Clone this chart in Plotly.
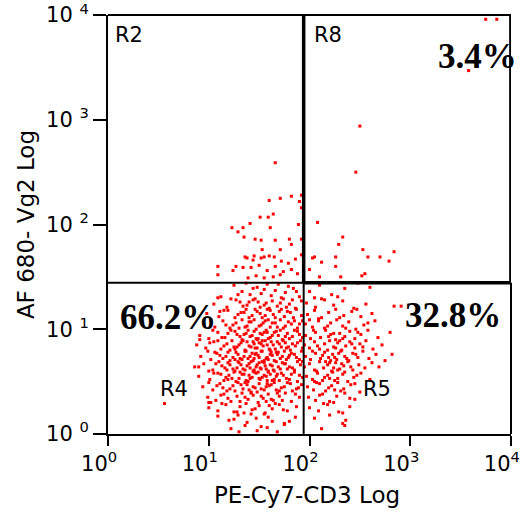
import plotly.graph_objects as go

# ---------------- data (log10 of fluorescence intensity) ----------------
# R4: lower-left population (CD3 low, Vg2 low)
r4_cd3_log10 = [
    1.12,1.25,1.33,1.41,1.48,1.55,1.62,1.69,1.76,1.84,1.90,1.37,1.52,1.66,1.79,1.29,1.58,1.72,1.87,1.44,
    1.05,1.18,1.27,1.34,1.40,1.46,1.51,1.57,1.63,1.68,1.74,1.80,1.86,1.92,1.22,1.38,1.49,1.60,1.71,1.83,1.31,1.55,1.77,1.44,
    0.98,1.10,1.19,1.26,1.32,1.37,1.43,1.48,1.53,1.58,1.64,1.70,1.75,1.81,1.87,1.92,1.15,1.29,1.40,1.51,1.61,1.72,1.84,1.35,1.56,1.66,1.78,1.46,
    0.95,1.06,1.14,1.21,1.27,1.33,1.38,1.42,1.47,1.52,1.56,1.61,1.66,1.71,1.76,1.82,1.88,1.93,1.02,1.17,1.30,1.40,1.50,1.59,1.68,1.79,1.90,1.24,1.45,1.63,1.74,1.36,1.54,1.85,
    0.91,1.00,1.09,1.16,1.22,1.28,1.33,1.37,1.41,1.45,1.49,1.53,1.57,1.61,1.65,1.69,1.73,1.78,1.83,1.88,1.93,1.04,1.19,1.31,1.39,1.47,1.55,1.63,1.71,1.80,1.90,1.13,1.26,1.43,1.51,1.59,1.67,1.76,1.35,1.58,1.85,1.48,
    0.88,0.97,1.05,1.12,1.18,1.23,1.28,1.32,1.36,1.40,1.44,1.48,1.52,1.56,1.60,1.64,1.68,1.72,1.76,1.81,1.86,1.91,1.01,1.15,1.26,1.34,1.42,1.50,1.58,1.66,1.74,1.83,1.93,1.09,1.21,1.30,1.38,1.46,1.54,1.62,1.70,1.79,1.88,1.25,1.45,1.61,1.77,1.53,
    0.92,1.02,1.08,1.14,1.19,1.24,1.29,1.33,1.37,1.41,1.44,1.47,1.50,1.53,1.57,1.61,1.65,1.69,1.73,1.77,1.82,1.87,1.92,0.99,1.11,1.21,1.27,1.35,1.39,1.46,1.52,1.59,1.63,1.67,1.71,1.80,1.90,1.06,1.17,1.31,1.43,1.55,1.75,1.85,1.26,1.49,1.58,1.68,1.36,1.62,1.79,1.45,
    0.86,0.95,1.04,1.10,1.16,1.21,1.26,1.30,1.34,1.38,1.42,1.45,1.48,1.51,1.55,1.59,1.63,1.67,1.71,1.75,1.80,1.85,1.91,1.00,1.13,1.19,1.28,1.36,1.40,1.47,1.53,1.57,1.61,1.65,1.73,1.83,1.93,1.07,1.24,1.32,1.44,1.50,1.69,1.78,1.88,1.18,1.41,1.56,1.64,1.29,1.52,1.76,
    0.90,1.01,1.09,1.15,1.20,1.25,1.30,1.35,1.39,1.43,1.47,1.51,1.55,1.59,1.63,1.67,1.72,1.77,1.82,1.88,1.93,1.05,1.17,1.27,1.33,1.41,1.49,1.57,1.65,1.74,1.85,1.12,1.23,1.37,1.45,1.53,1.61,1.70,1.80,1.19,1.40,1.58,1.31,1.50,1.68,1.90,
    0.94,1.04,1.11,1.18,1.24,1.29,1.34,1.38,1.42,1.46,1.50,1.55,1.60,1.65,1.70,1.75,1.81,1.87,1.92,1.00,1.14,1.26,1.36,1.44,1.52,1.62,1.72,1.83,1.08,1.21,1.32,1.48,1.57,1.67,1.78,1.40,1.58,1.89,
    0.99,1.07,1.15,1.22,1.28,1.33,1.39,1.44,1.49,1.54,1.59,1.64,1.70,1.76,1.82,1.90,1.02,1.19,1.31,1.42,1.52,1.62,1.73,1.86,1.12,1.36,1.57,1.68,
    1.00,1.09,1.17,1.25,1.31,1.37,1.43,1.50,1.56,1.63,1.70,1.78,1.87,1.13,1.28,1.46,1.60,1.74,1.35,1.66,
    1.09,1.20,1.29,1.38,1.47,1.55,1.63,1.75,1.86,1.25,1.42,1.59,1.80,
    1.22,1.36,1.48,1.58,1.68,1.75,1.30,1.52,
    0.56,0.90,0.91,1.09,1.11,1.00,
]
r4_vg2_log10 = [
    1.31,1.42,1.36,1.33,1.40,1.38,1.32,1.43,1.35,1.39,1.31,1.44,1.34,1.37,1.41,1.33,1.43,1.30,1.36,1.39,
    1.24,1.21,1.28,1.22,1.26,1.29,1.21,1.25,1.27,1.22,1.29,1.24,1.20,1.27,1.29,1.23,1.26,1.20,1.25,1.28,1.26,1.23,1.21,1.28,
    1.15,1.12,1.18,1.11,1.16,1.19,1.13,1.17,1.11,1.19,1.14,1.17,1.12,1.16,1.19,1.13,1.18,1.14,1.11,1.15,1.18,1.19,1.11,1.16,1.13,1.11,1.17,1.19,
    1.05,1.02,1.08,1.01,1.06,1.09,1.03,1.07,1.00,1.04,1.08,1.02,1.06,1.09,1.03,1.05,1.01,1.08,1.09,1.04,1.01,1.07,1.03,1.09,1.02,1.07,1.05,1.04,1.09,1.06,1.01,1.02,1.06,1.08,
    0.94,0.91,0.97,0.92,0.99,0.95,0.90,0.96,0.93,0.98,0.91,0.95,0.99,0.92,0.97,0.94,0.90,0.96,0.93,0.98,0.92,0.99,0.96,0.93,0.99,0.91,0.97,0.94,0.99,0.91,0.95,0.92,0.98,0.94,0.96,0.91,0.98,0.93,0.95,0.97,0.99,0.90,
    0.85,0.82,0.88,0.81,0.86,0.89,0.83,0.87,0.80,0.84,0.88,0.82,0.86,0.89,0.81,0.85,0.88,0.83,0.87,0.80,0.84,0.89,0.87,0.84,0.81,0.89,0.83,0.87,0.85,0.81,0.89,0.86,0.82,0.89,0.80,0.85,0.88,0.82,0.84,0.88,0.86,0.83,0.87,0.83,0.86,0.80,0.82,0.89,
    0.74,0.71,0.77,0.72,0.78,0.73,0.76,0.71,0.79,0.74,0.70,0.77,0.73,0.79,0.72,0.76,0.70,0.78,0.74,0.71,0.77,0.73,0.79,0.79,0.75,0.70,0.78,0.74,0.72,0.76,0.79,0.71,0.75,0.78,0.72,0.75,0.71,0.78,0.74,0.72,0.77,0.70,0.79,0.76,0.71,0.75,0.73,0.76,0.79,0.78,0.73,0.72,
    0.64,0.67,0.61,0.69,0.63,0.66,0.60,0.68,0.62,0.65,0.69,0.61,0.66,0.63,0.68,0.60,0.65,0.69,0.62,0.67,0.64,0.61,0.66,0.60,0.65,0.68,0.63,0.61,0.67,0.64,0.69,0.62,0.66,0.60,0.68,0.63,0.69,0.67,0.62,0.66,0.60,0.68,0.64,0.62,0.69,0.61,0.63,0.65,0.61,0.69,0.62,0.67,
    0.55,0.52,0.58,0.51,0.56,0.59,0.53,0.57,0.50,0.54,0.58,0.52,0.56,0.59,0.51,0.55,0.58,0.53,0.57,0.50,0.54,0.58,0.54,0.50,0.57,0.53,0.59,0.55,0.52,0.56,0.59,0.57,0.53,0.51,0.59,0.54,0.57,0.51,0.52,0.52,0.56,0.51,0.59,0.53,0.57,0.56,
    0.45,0.42,0.48,0.41,0.46,0.49,0.43,0.47,0.40,0.44,0.48,0.42,0.46,0.49,0.41,0.45,0.48,0.43,0.47,0.49,0.44,0.41,0.49,0.45,0.43,0.47,0.44,0.41,0.46,0.43,0.47,0.40,0.45,0.42,0.49,0.42,0.48,0.44,
    0.35,0.32,0.38,0.31,0.36,0.39,0.33,0.37,0.30,0.34,0.38,0.32,0.36,0.39,0.31,0.35,0.30,0.34,0.31,0.39,0.36,0.33,0.32,0.38,0.37,0.35,0.31,0.39,
    0.25,0.22,0.28,0.21,0.26,0.29,0.23,0.27,0.20,0.24,0.28,0.22,0.26,0.29,0.21,0.24,0.27,0.23,0.20,0.29,
    0.17,0.13,0.18,0.11,0.15,0.19,0.12,0.10,0.16,0.14,0.19,0.16,0.12,
    0.05,0.08,0.03,0.06,0.02,0.09,0.02,0.07,
    0.29,0.64,0.90,1.30,1.17,0.30,
]

# R5: lower-right population (CD3 high, Vg2 low)
r5_cd3_log10 = [
    2.00,2.10,2.22,2.35,2.48,2.60,2.28,2.05,
    1.97,2.06,2.15,2.24,2.33,2.44,2.56,2.84,2.91,2.12,
    1.98,2.05,2.12,2.19,2.26,2.34,2.42,2.51,2.62,2.09,2.30,2.47,
    1.96,2.03,2.09,2.15,2.21,2.27,2.33,2.39,2.46,2.54,2.65,2.00,2.18,2.36,2.58,
    1.96,2.01,2.06,2.11,2.16,2.21,2.26,2.30,2.35,2.40,2.45,2.51,2.58,2.68,2.80,2.04,2.19,2.33,2.48,2.24,
    1.95,2.00,2.05,2.10,2.15,2.20,2.24,2.28,2.32,2.36,2.40,2.45,2.50,2.56,2.63,2.72,2.08,2.18,2.30,2.42,2.26,2.53,
    1.96,2.01,2.06,2.11,2.15,2.19,2.23,2.27,2.31,2.35,2.39,2.43,2.48,2.53,2.59,2.66,2.75,2.03,2.13,2.21,2.29,2.37,2.46,2.25,
    1.95,2.00,2.05,2.10,2.14,2.18,2.22,2.26,2.30,2.34,2.38,2.43,2.49,2.55,2.62,2.07,2.16,2.24,2.32,2.41,2.20,2.28,
    1.97,2.03,2.08,2.13,2.18,2.23,2.28,2.33,2.38,2.44,2.51,2.60,2.05,2.15,2.25,2.35,2.47,2.20,
    1.98,2.04,2.10,2.16,2.22,2.28,2.34,2.41,2.50,2.07,2.19,2.31,2.45,2.25,
    1.99,2.06,2.13,2.20,2.27,2.35,2.45,2.10,2.24,2.40,
    2.00,2.09,2.18,2.29,2.40,2.14,2.33,
    2.05,2.20,2.33,2.36,
    2.12,2.35,
    2.82,2.69,
]
r5_vg2_log10 = [
    1.36,1.42,1.33,1.39,1.44,1.40,1.31,1.30,
    1.25,1.21,1.28,1.23,1.27,1.20,1.24,1.22,1.22,1.29,
    1.14,1.18,1.11,1.16,1.19,1.13,1.17,1.12,1.15,1.10,1.11,1.19,
    1.05,1.02,1.08,1.01,1.06,1.09,1.03,1.07,1.00,1.04,1.08,1.09,1.03,1.01,1.06,
    0.94,0.91,0.97,0.92,0.99,0.95,0.90,0.96,0.93,0.98,0.91,0.95,0.99,0.92,0.97,0.99,0.93,0.91,0.97,0.96,
    0.85,0.82,0.88,0.81,0.86,0.89,0.83,0.87,0.80,0.84,0.88,0.82,0.86,0.89,0.81,0.85,0.84,0.80,0.89,0.86,0.82,0.83,
    0.74,0.71,0.77,0.72,0.78,0.73,0.76,0.71,0.79,0.74,0.70,0.77,0.73,0.79,0.72,0.76,0.70,0.79,0.75,0.70,0.77,0.72,0.76,0.73,
    0.64,0.67,0.61,0.69,0.63,0.66,0.60,0.68,0.62,0.65,0.69,0.61,0.66,0.63,0.68,0.60,0.69,0.63,0.67,0.64,0.68,0.61,
    0.55,0.52,0.58,0.51,0.56,0.59,0.53,0.57,0.50,0.54,0.58,0.52,0.50,0.54,0.51,0.59,0.56,0.53,
    0.45,0.42,0.48,0.41,0.46,0.49,0.43,0.47,0.40,0.49,0.44,0.41,0.48,0.42,
    0.35,0.32,0.38,0.31,0.36,0.39,0.33,0.37,0.30,0.34,
    0.25,0.22,0.28,0.21,0.26,0.29,0.20,
    0.15,0.18,0.10,0.13,
    0.05,0.08,
    0.76,0.64,
]

# R2: upper-left population (CD3 low, Vg2 high)
r2_cd3_log10 = [
    1.60,1.71,1.82,1.90,1.92,1.59,1.64,1.51,1.34,1.41,1.35,1.23,1.29,1.61,1.89,1.46,1.52,1.66,1.80,1.82,
    1.71,1.53,1.55,1.45,1.38,1.92,1.92,1.92,1.66,
    1.09,1.09,1.24,1.27,
    1.36,1.44,1.52,1.60,1.65,1.72,1.79,1.86,1.34,1.42,1.50,1.58,1.66,1.74,1.82,1.47,1.55,1.64,1.88,1.39,1.71,
]
r2_vg2_log10 = [
    2.23,2.25,2.27,2.22,2.28,2.07,2.10,2.07,1.97,2.01,1.88,1.97,1.93,1.97,2.00,1.86,1.85,1.85,1.86,1.81,
    1.76,1.76,1.69,1.70,1.68,1.86,1.71,2.16,2.59,
    1.60,1.52,1.56,1.60,
    1.69,1.66,1.68,1.70,1.69,1.65,1.63,1.67,1.59,1.59,1.61,1.56,1.60,1.55,1.57,1.51,1.49,1.50,1.53,1.49,1.52,
]

# R8: upper-right population (CD3 high, Vg2 high)
r8_cd3_log10 = [2.46,2.50,3.75,3.86,3.58,2.08,2.33,2.29,2.53,2.84,2.58,2.26,2.05,2.70,
                2.26,2.31,2.52,2.55,2.79,2.03,2.12,2.10,2.00]
r8_vg2_log10 = [2.50,2.94,3.96,3.96,3.47,2.02,1.88,1.81,1.76,1.74,1.69,1.69,1.69,1.69,
                1.60,1.50,1.51,1.53,1.65,1.68,1.64,1.50,1.57]

# gate thresholds (fluorescence units)
gate_cd3 = 87.5
gate_vg2 = 27.7

# region labels and percentages
region_names = ["R2", "R8", "R4", "R5"]
region_pcts = ["66.2%", "32.8%", "3.4%"]

tick_vals = [1, 10, 100, 1000, 10000]
tick_exps = ["0", "1", "2", "3", "4"]

# ---------------- figure ----------------
all_x = [10 ** v for v in (r4_cd3_log10 + r5_cd3_log10 + r2_cd3_log10 + r8_cd3_log10)]
all_y = [10 ** v for v in (r4_vg2_log10 + r5_vg2_log10 + r2_vg2_log10 + r8_vg2_log10)]

fig = go.Figure()
fig.add_trace(go.Scatter(
    x=all_x, y=all_y, mode="markers",
    marker=dict(symbol="square", size=3, color="#ff0000", line=dict(width=0)),
    showlegend=False, hoverinfo="skip",
))

LBL = dict(family="DejaVu Sans", size=21, color="black")
TTL = dict(family="DejaVu Sans", size=23, color="black")
PCT = dict(family="Liberation Serif", size=35, color="black", weight="bold")

fig.update_layout(
    width=522, height=512,
    margin=dict(l=108, r=11, t=15, b=78, autoexpand=False),
    paper_bgcolor="white", plot_bgcolor="white",
    xaxis=dict(
        type="log", range=[-0.001, 4.001], showgrid=False, zeroline=False, automargin=False,
        tickvals=tick_vals, ticktext=["10<sup>%s</sup>" % e for e in tick_exps],
        ticks="outside", ticklen=10, tickwidth=2, tickcolor="black",
        showline=True, linewidth=2, linecolor="black",
        tickfont=LBL, ticklabelshift=-9,
    ),
    yaxis=dict(
        type="log", range=[-0.001, 4.001], showgrid=False, zeroline=False, automargin=False,
        tickvals=tick_vals, ticktext=["10 <sup>%s</sup>" % e for e in tick_exps],
        ticks="outside", ticklen=13, tickwidth=2, tickcolor="black",
        showline=True, linewidth=2, linecolor="black",
        tickfont=LBL, ticklabeloverflow="allow",
    ),
)

thin = dict(color="black", width=2)
thick = dict(color="black", width=3.5)
shapes = [
    # frame top and right (lower part)
    dict(type="line", xref="paper", yref="paper", x0=0, x1=1, y0=1, y1=1, line=thin),
    dict(type="line", xref="paper", yref="y", x0=1, x1=1, y0=1, y1=gate_vg2, line=thin),
    # quadrant lines
    dict(type="line", xref="x", yref="y", x0=gate_cd3, x1=gate_cd3, y0=1, y1=gate_vg2, line=thin),
    dict(type="line", xref="x", yref="y", x0=1, x1=gate_cd3, y0=gate_vg2, y1=gate_vg2, line=thin),
    # R8 gate box
    dict(type="line", xref="x", yref="y", x0=gate_cd3, x1=gate_cd3, y0=gate_vg2, y1=10000, line=thick),
    dict(type="line", xref="x", yref="y", x0=gate_cd3, x1=10000, y0=gate_vg2, y1=gate_vg2, line=thick),
    dict(type="line", xref="x", yref="y", x0=10000, x1=10000, y0=gate_vg2, y1=10000, line=thick),
]
fig.update_layout(shapes=shapes)

ann = []
# region names
ann.append(dict(text=region_names[0], x=0.012, y=0.952, xanchor="left", yanchor="middle", font=LBL))
ann.append(dict(text=region_names[1], x=0.505, y=0.952, xanchor="left", yanchor="middle", font=LBL))
ann.append(dict(text=region_names[2], x=0.164, y=0.107, xanchor="center", yanchor="middle", font=LBL))
ann.append(dict(text=region_names[3], x=0.667, y=0.107, xanchor="center", yanchor="middle", font=LBL))
# percentages
ann.append(dict(text=region_pcts[0], x=0.149, y=0.277, xanchor="center", yanchor="middle", font=PCT))
ann.append(dict(text=region_pcts[1], x=0.856, y=0.282, xanchor="center", yanchor="middle", font=PCT))
ann.append(dict(text=region_pcts[2], x=0.918, y=0.900, xanchor="center", yanchor="middle", font=PCT))
# axis titles
ann.append(dict(text="PE-Cy7-CD3 Log", x=0.494, y=-0.146, xanchor="center", yanchor="middle", font=TTL))
ann.append(dict(text="AF 680- Vg2 Log", x=-0.203, y=0.499, xanchor="center", yanchor="middle",
                textangle=-90, font=TTL))
for a in ann:
    a.update(xref="paper", yref="paper", showarrow=False)
fig.update_layout(annotations=ann)

fig.write_html("out.html")
